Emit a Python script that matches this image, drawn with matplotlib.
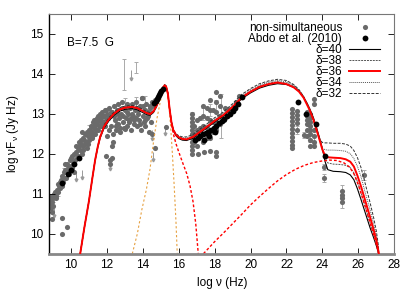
import matplotlib

matplotlib.use("Agg")
import matplotlib.pyplot as plt
from matplotlib.lines import Line2D

plt.rcParams["font.family"] = ["Liberation Sans", "DejaVu Sans"]
plt.rcParams["mathtext.fontset"] = "custom"
plt.rcParams["mathtext.rm"] = "Liberation Sans"
plt.rcParams["mathtext.it"] = "Liberation Sans"

# model grid (log nu) shared by the five delta curves
model_x = [10.52, 10.75, 11.0, 11.2, 11.35, 11.5, 11.63, 11.85, 12.1, 12.4,
           12.7, 13.0, 13.4, 13.7, 13.95, 14.2, 14.41, 14.6, 14.78, 14.95,
           15.05, 15.15, 15.22, 15.3, 15.4, 15.5, 15.6, 15.7, 15.85, 16.0,
           16.2, 16.44, 16.8, 17.2, 17.56, 18.0, 18.5, 19.0, 19.5, 20.0,
           20.5, 21.0, 21.5, 22.0, 22.4, 22.7, 22.95, 23.15, 23.3, 23.5,
           23.67, 23.85, 24.0, 24.15, 24.3, 24.6, 25.0, 25.3, 25.55, 25.75,
           25.95, 26.15, 26.4, 26.65, 26.85, 27.0, 27.1, 27.14]

d40 = [9.5, 10.15, 10.8, 11.4, 11.83, 12.16, 12.39, 12.64, 12.81, 12.96,
       13.06, 13.11, 13.13, 13.1, 13.04, 12.98, 12.96, 13.03, 13.19, 13.39,
       13.54, 13.66, 13.7, 13.67, 13.5, 13.1, 12.78, 12.58, 12.45, 12.38,
       12.34, 12.33, 12.39, 12.52, 12.64, 12.79, 12.94, 13.14, 13.37, 13.52,
       13.64, 13.71, 13.75, 13.73, 13.66, 13.56, 13.42, 13.26, 13.12, 12.9,
       12.66, 12.38, 12.12, 11.8, 11.6, 11.56, 11.55, 11.53, 11.47, 11.35,
       11.12, 10.85, 10.5, 10.15, 9.9, 9.7, 9.55, 9.45]
d38 = [9.5, 10.15, 10.8, 11.4, 11.84, 12.17, 12.41, 12.66, 12.83, 12.98,
       13.08, 13.13, 13.15, 13.12, 13.06, 13.0, 12.97, 13.05, 13.2, 13.4,
       13.55, 13.67, 13.71, 13.68, 13.5, 13.1, 12.78, 12.59, 12.46, 12.4,
       12.36, 12.35, 12.41, 12.55, 12.68, 12.84, 12.99, 13.19, 13.42, 13.57,
       13.69, 13.76, 13.8, 13.77, 13.69, 13.58, 13.43, 13.25, 13.1, 12.87,
       12.62, 12.35, 12.1, 11.88, 11.77, 11.74, 11.73, 11.71, 11.65, 11.52,
       11.3, 11.02, 10.65, 10.28, 10.0, 9.77, 9.58, 9.48]
d36 = [9.5, 10.15, 10.8, 11.4, 11.84, 12.18, 12.42, 12.68, 12.85, 13.0,
       13.1, 13.15, 13.17, 13.14, 13.08, 13.02, 12.99, 13.06, 13.21, 13.4,
       13.55, 13.67, 13.71, 13.68, 13.5, 13.1, 12.78, 12.59, 12.47, 12.41,
       12.37, 12.36, 12.42, 12.55, 12.67, 12.82, 12.97, 13.17, 13.4, 13.55,
       13.67, 13.74, 13.78, 13.74, 13.66, 13.55, 13.4, 13.22, 13.08, 12.85,
       12.6, 12.33, 12.1, 11.95, 11.91, 11.9, 11.89, 11.86, 11.8, 11.68,
       11.45, 11.18, 10.8, 10.42, 10.1, 9.84, 9.6, 9.5]
d34 = [9.5, 10.15, 10.8, 11.4, 11.85, 12.19, 12.43, 12.7, 12.87, 13.02,
       13.12, 13.17, 13.19, 13.16, 13.1, 13.04, 13.01, 13.07, 13.22, 13.41,
       13.56, 13.68, 13.72, 13.69, 13.51, 13.11, 12.79, 12.6, 12.49, 12.43,
       12.4, 12.39, 12.45, 12.59, 12.71, 12.87, 13.02, 13.22, 13.45, 13.6,
       13.72, 13.79, 13.83, 13.8, 13.71, 13.59, 13.43, 13.24, 13.09, 12.86,
       12.62, 12.36, 12.13, 12.1, 12.09, 12.09, 12.08, 12.06, 12.0, 11.88,
       11.68, 11.42, 11.0, 10.6, 10.25, 9.95, 9.68, 9.52]
d32 = [9.5, 10.15, 10.8, 11.4, 11.86, 12.2, 12.44, 12.72, 12.89, 13.04,
       13.14, 13.19, 13.21, 13.18, 13.12, 13.06, 13.02, 13.08, 13.23, 13.42,
       13.57, 13.69, 13.73, 13.7, 13.52, 13.12, 12.8, 12.61, 12.5, 12.45,
       12.42, 12.42, 12.48, 12.62, 12.74, 12.9, 13.05, 13.25, 13.48, 13.63,
       13.75, 13.82, 13.86, 13.83, 13.73, 13.6, 13.43, 13.23, 13.07, 12.85,
       12.6, 12.35, 12.28, 12.27, 12.27, 12.26, 12.26, 12.24, 12.19, 12.08,
       11.9, 11.65, 11.22, 10.78, 10.4, 10.07, 9.75, 9.55]

# thermal (disk) component
disk_x = [13.42, 13.7, 13.95, 14.2, 14.4, 14.6, 14.8, 15.0, 15.15, 15.25,
          15.35, 15.45, 15.55, 15.65, 15.75, 15.85, 15.92]
disk_y = [9.5, 10.0, 10.6, 11.1, 11.6, 12.3, 12.9, 13.35, 13.6, 13.68,
          13.58, 13.25, 12.7, 12.0, 11.2, 10.3, 9.5]

# synchrotron tail and inverse-Compton component (delta=36)
sync_x = [15.3, 15.4, 15.5, 15.6, 15.7, 15.85, 16.0, 16.2, 16.45, 16.63,
          16.8, 16.95, 17.09]
sync_y = [13.68, 13.5, 13.1, 12.75, 12.5, 12.25, 12.05, 11.8, 11.5, 11.2,
          10.8, 10.25, 9.5]
ic_x = [17.38, 18.0, 18.5, 19.0, 19.5, 20.0, 20.5, 21.0, 21.5, 22.0, 22.5,
        23.0, 23.5, 24.0, 24.4, 24.8, 25.2, 25.5, 25.75, 26.0, 26.3, 26.6,
        26.85, 27.05, 27.13]
ic_y = [9.5, 9.8, 10.02, 10.25, 10.48, 10.72, 10.93, 11.13, 11.32, 11.48,
        11.61, 11.71, 11.78, 11.82, 11.84, 11.83, 11.77, 11.67, 11.5, 11.22,
        10.8, 10.35, 9.97, 9.65, 9.5]

# non-simultaneous data
gray_x = [8.87, 8.87, 8.9, 8.92, 8.95, 8.97, 9.0, 9.02, 9.05, 8.95,
          9.2, 9.25, 9.3, 9.35, 9.4, 9.45, 9.5, 9.55, 9.6, 9.48, 9.48, 9.78,
          9.7, 9.75, 9.8, 9.85, 9.9, 9.95, 10.0, 10.05, 10.1, 10.15, 10.2,
          10.3, 10.35, 10.4, 10.45, 10.5, 10.55, 10.6, 10.65, 10.7, 10.75,
          10.8, 10.85, 10.9, 10.95, 11.0, 11.0, 10.64,
          11.05, 11.1, 11.15, 11.2, 11.25, 11.3, 11.35, 11.4, 11.45, 11.5,
          11.55, 11.6, 11.65, 11.7, 11.75, 11.8, 11.85, 11.9, 11.95, 12.0,
          11.33, 11.5, 11.63, 12.18, 12.18, 11.95, 12.28, 12.37, 12.0, 12.3,
          12.1, 12.2, 12.25, 12.3, 12.35, 12.4, 12.45, 12.5, 12.55, 12.6,
          12.65, 12.7, 12.75, 12.8, 12.85, 12.9, 12.95, 13.0, 13.05, 13.1,
          13.15, 13.2, 13.25, 13.3, 13.35, 13.4, 13.45, 13.5, 13.55, 13.6,
          13.65, 13.7, 13.75, 13.8, 13.85, 13.9, 13.95, 14.0, 14.05, 14.1,
          14.15, 14.2, 14.25, 14.3, 14.35, 14.4, 14.45, 14.5, 12.59, 13.02,
          13.94, 14.5, 14.68, 15.28, 14.6, 14.7,
          # extra radio / mm points filling the band
          9.1, 9.15, 9.28, 9.38, 9.52, 9.62, 9.68, 9.88, 9.98, 10.08,
          10.22, 10.28, 10.38, 10.48, 10.58, 10.68, 10.78, 10.88, 10.98,
          11.08, 11.18, 11.28, 11.38, 11.48, 11.58, 11.68, 11.78, 11.88,
          11.98, 12.08, 12.15, 12.22, 12.42, 12.52, 12.62, 12.72, 12.82,
          12.92, 13.12, 13.22, 13.32, 13.42, 13.52, 13.72, 13.82, 14.02,
          14.12, 14.32, 14.42,
          16.72, 16.72, 16.72, 16.72, 16.72, 16.72, 16.72, 16.72, 16.72, 16.72,
          16.85, 16.85, 16.85, 17.0, 17.0, 17.0, 17.0, 17.2, 17.2, 17.2,
          17.37, 17.37, 17.37, 17.37, 17.37, 17.55, 17.55, 17.55, 17.55,
          17.74, 17.74, 17.74, 17.74, 17.74, 17.9, 17.9, 17.9, 18.07, 18.07,
          18.07, 18.07, 18.07, 18.3, 18.3, 18.3, 18.3, 18.5, 18.6, 18.8,
          19.2, 19.35, 16.72, 17.09, 17.42, 17.74, 18.07, 18.07,
          22.28, 22.28, 22.28, 22.28, 22.28, 22.28, 22.28, 22.28, 22.28,
          22.28, 22.28, 22.58, 22.58, 22.58, 22.58, 22.58, 22.95, 23.15,
          23.15, 23.15, 23.15, 23.15, 23.15, 23.32, 23.32, 23.32, 23.32,
          23.32, 23.32, 23.32, 23.32, 23.55, 23.55, 23.55, 23.55, 23.55,
          23.55, 24.09, 24.09, 25.1, 25.1, 25.1, 25.1, 26.3]
gray_y = [10.75, 10.85, 10.65, 10.95, 10.55, 10.8, 10.7, 10.9, 11.0, 10.36,
          10.95, 11.1, 11.05, 11.2, 11.15, 11.35, 11.45, 11.3, 11.55, 10.38,
          10.0, 10.16,
          11.6, 11.4, 11.75, 11.65, 11.5, 11.85, 11.7, 11.95, 11.8, 11.55,
          12.0,
          12.05, 11.9, 12.15, 12.3, 12.1, 12.25, 12.0, 12.4, 12.2, 12.35,
          12.5, 12.3, 12.15, 12.45, 12.6, 12.35, 12.54,
          12.5, 12.7, 12.4, 12.55, 12.8, 12.65, 12.5, 12.75, 12.9, 12.6,
          12.85, 13.0, 12.7, 12.9, 13.05, 12.8, 12.95, 13.1, 12.85, 13.0,
          12.71, 12.95, 12.88, 11.84, 11.74, 11.95, 11.88, 12.3, 12.45, 12.2,
          13.15, 12.95, 12.7, 13.05, 12.5, 13.2, 12.85, 12.6, 13.1, 12.75,
          13.25, 12.9, 12.55, 13.0, 13.3, 12.8, 12.65, 13.1, 12.9, 13.25,
          12.7, 13.0, 12.85, 13.15, 12.6, 13.25, 12.95, 12.75, 13.1, 12.9,
          13.3, 12.7, 13.0, 12.85, 13.2, 12.6, 13.4, 12.95, 12.8, 13.1,
          12.7, 13.25, 12.9, 13.05, 12.55, 13.15, 12.8, 13.3, 12.75, 12.63,
          13.4, 12.5, 12.13, 12.67, 13.2, 13.35,
          11.05, 10.9, 11.25, 11.3, 11.2, 11.4, 11.75, 11.6, 11.9, 11.65,
          11.85, 12.2, 11.95, 12.2, 12.35, 12.1, 12.25, 12.55, 12.25,
          12.6, 12.45, 12.85, 12.6, 12.8, 12.7, 12.8, 12.95, 12.7,
          13.1, 12.9, 12.6, 13.05, 12.95, 12.7, 13.0, 12.65, 13.15,
          12.95, 13.05, 12.8, 12.9, 13.0, 12.85, 13.1, 12.75, 13.2,
          12.85, 12.95, 13.2,
          12.1, 12.2, 12.3, 12.4, 12.5, 12.6, 12.7, 12.8, 12.9, 13.0,
          12.3, 12.5, 12.7, 12.2, 12.4, 12.6, 12.85, 12.45, 12.65, 12.9,
          12.3, 12.5, 12.7, 12.95, 13.2, 12.4, 12.65, 12.9, 13.15,
          12.4, 12.6, 12.85, 13.1, 13.35, 12.55, 12.8, 13.1, 12.6, 12.8,
          13.05, 13.3, 13.55, 12.75, 12.95, 13.2, 13.45, 12.85, 13.15, 13.1,
          13.3, 13.45, 12.0, 12.0, 12.05, 12.07, 12.05, 11.95,
          13.12, 13.02, 12.92, 12.82, 12.72, 12.62, 12.52, 12.42, 12.32,
          12.22, 12.14, 13.08, 12.98, 12.88, 12.78, 12.6, 12.46, 13.05,
          12.95, 12.85, 12.75, 12.6, 12.45, 13.0, 12.9, 12.8, 12.7,
          12.6, 12.5, 12.35, 12.2, 13.38, 13.25, 12.6, 12.45, 12.3,
          12.2, 11.67, 11.38, 11.07, 10.97, 10.88, 10.8, 11.46]

# points drawn with visible error bars
err_x = [12.96, 13.63, 8.92, 9.02, 9.3, 9.6, 10.5, 11.0, 11.4, 12.0, 12.5,
         13.0, 13.6, 14.1, 16.72, 17.37, 17.74, 18.07, 18.35, 22.28, 22.58,
         22.95, 23.32, 23.55, 24.09, 24.09, 25.1, 25.1, 26.3]
err_y = [13.98, 14.16, 10.75, 10.9, 11.05, 11.55, 12.1, 12.6, 12.75, 13.0,
         13.15, 13.3, 13.3, 13.35, 12.9, 13.0, 13.1, 13.2, 12.95, 12.3,
         12.6, 12.46, 12.4, 12.35, 11.67, 11.38, 11.07, 10.8, 11.46]
err_v = [0.38, 0.13, 0.1, 0.1, 0.1, 0.1, 0.1, 0.12, 0.1, 0.1, 0.1, 0.1,
         0.12, 0.1, 0.15, 0.15, 0.15, 0.15, 0.55, 0.1, 0.1, 0.08, 0.1,
         0.12, 0.08, 0.1, 0.15, 0.15, 0.12]

# upper limits (arrow down)
ul_x = [13.33, 15.24, 14.59, 10.31, 10.64, 12.18, 9.05, 14.5]
ul_y = [14.09, 12.71, 12.05, 11.55, 11.6, 11.84, 10.65, 12.59]

# Abdo et al. (2010)
abdo_x = [9.5, 9.83, 10.02, 10.2, 10.46,
          14.65, 14.72, 14.78, 14.85, 14.92, 14.98, 15.04, 15.1,
          16.9, 17.05, 17.2, 17.35, 17.5, 17.65, 17.8, 17.95, 18.1, 18.25,
          18.4, 18.55, 18.7, 18.85, 19.0, 19.15, 19.3, 19.5, 17.4, 17.7,
          18.0, 22.65, 23.1, 23.63, 24.13]
abdo_y = [11.27, 11.5, 11.6, 11.74, 11.88,
          13.28, 13.33, 13.38, 13.43, 13.48, 13.53, 13.58, 13.62,
          12.35, 12.38, 12.45, 12.48, 12.52, 12.55, 12.6, 12.64, 12.7, 12.76,
          12.82, 12.88, 12.94, 13.0, 13.08, 13.15, 13.25, 13.42, 12.35, 12.45,
          12.55, 13.3, 13.0, 12.74, 11.93]

deltas = ["δ=40", "δ=38", "δ=36", "δ=34", "δ=32"]
GRAY = "#6a6a6a"
FS = 8.5

fig = plt.figure(figsize=(4.15, 2.91), dpi=100)
ax = fig.add_axes([0.1188, 0.1282, 0.8313, 0.8247])

ax.errorbar(err_x, err_y, yerr=err_v, fmt="none", ecolor="#aaaaaa",
            elinewidth=0.7, capsize=1.5, capthick=0.7, zorder=1)
ax.vlines(ul_x, [y - 0.22 for y in ul_y], ul_y, color="#999999", lw=0.7,
          zorder=1)
ax.plot(ul_x, [y - 0.22 for y in ul_y], ls="none", marker="v", ms=2,
        color="#999999", zorder=1)
ax.plot(gray_x, gray_y, ls="none", marker="o", ms=3.7, color=GRAY,
        mec="none", zorder=1)

styles = [
    dict(color="black", lw=0.8, ls="-"),
    dict(color="#555555", lw=0.7, ls=(0, (2, 1))),
    dict(color="red", lw=1.4, ls="-"),
    dict(color="#555555", lw=0.7, ls=(0, (1, 1))),
    dict(color="#333333", lw=0.7, ls=(0, (3, 1.5))),
]
for ys, st in zip([d40, d38, d36, d34, d32], styles):
    ax.plot(model_x, ys, zorder=3 if st["color"] == "red" else 2, **st)

ax.plot(disk_x, disk_y, color="#e6a040", lw=0.8, ls=(0, (2, 2)), zorder=2)
ax.plot(sync_x, sync_y, color="red", lw=1.0, ls=(0, (2, 1.5)), zorder=2)
ax.plot(ic_x, ic_y, color="red", lw=1.0, ls=(0, (2, 1.5)), zorder=2)

ax.plot(abdo_x, abdo_y, ls="none", marker="o", ms=4.2, color="black",
        mec="none", zorder=4)

ax.set_xlim(8.8, 28)
ax.set_ylim(9.5, 15.5)
ax.set_xticks(range(10, 29, 2))
ax.set_yticks(range(10, 16))
ax.tick_params(direction="in", top=True, right=True, length=4, width=0.6,
               labelsize=FS, pad=4)
ax.tick_params(axis="y", labelright=False)
ax.tick_params(axis="x", labeltop=False)
for side in ["top", "right"]:
    ax.spines[side].set_color("#777777")
    ax.spines[side].set_linewidth(0.8)
ax.spines["left"].set_color("black")
ax.spines["left"].set_linewidth(1.0)
ax.spines["bottom"].set_color("#888888")
ax.spines["bottom"].set_linewidth(2.0)

ax.set_xlabel("log ν (Hz)", fontsize=FS, labelpad=4)
ax.set_ylabel(r"log $\nu$F$_\nu$ (Jy Hz)", fontsize=FS, labelpad=7)
ax.text(0.05, 0.879, "B=7.5  G", transform=ax.transAxes, fontsize=FS,
        va="center", ha="left")

handles = [
    Line2D([], [], ls="none", marker="o", ms=3.7, color=GRAY, mec="none"),
    Line2D([], [], ls="none", marker="o", ms=4.2, color="black", mec="none"),
] + [Line2D([], [], **st) for st in styles]
labels = ["non-simultaneous", "Abdo et al. (2010)"] + deltas
ax.legend(handles, labels, loc="upper right", bbox_to_anchor=(0.9586, 0.965),
          frameon=False, markerfirst=False, fontsize=FS, handlelength=2.6,
          handletextpad=0.6, labelspacing=-0.08, borderpad=0, borderaxespad=0)

fig.savefig("out.png", dpi=100)
